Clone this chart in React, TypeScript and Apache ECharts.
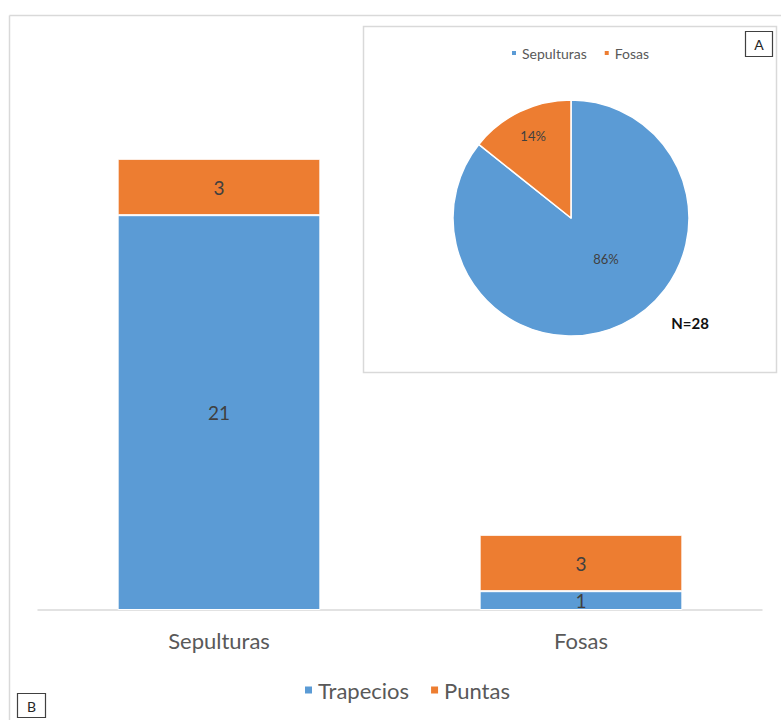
import React, { useEffect, useRef } from "react";
import * as echarts from "echarts";

// Counts per context type, split by arrowhead form
const categories = ["Sepulturas", "Fosas"];
const trapecios = [21, 1];
const puntas = [3, 3];
const barSeriesNames = ["Trapecios", "Puntas"];

const BLUE = "#5B9BD5";
const ORANGE = "#ED7D31";
const FONT = "Lato, 'Noto Sans', sans-serif";

export default function App() {
  const ref = useRef<HTMLDivElement>(null);

  useEffect(() => {
    if (!ref.current) return;
    const chart = echarts.init(ref.current, undefined, { renderer: "svg" });

    const pieValues = categories.map((_, i) => trapecios[i] + puntas[i]);
    const total = pieValues.reduce((a, b) => a + b, 0);

    const pieCx = 571;
    const pieCy = 218;
    const pieR = 118;

    chart.setOption({
      animation: false,
      backgroundColor: "#ffffff",
      textStyle: { fontFamily: FONT },
      graphic: [
        // outer frame (left and top edges visible)
        {
          type: "line",
          shape: { x1: 9.5, y1: 15.5, x2: 9.5, y2: 720 },
          style: { stroke: "#d9d9d9", lineWidth: 1.5 },
          z: -10,
        },
        {
          type: "line",
          shape: { x1: 9.5, y1: 15.5, x2: 781, y2: 15.5 },
          style: { stroke: "#d9d9d9", lineWidth: 1.5 },
          z: -10,
        },
        // inset panel behind the pie
        {
          type: "rect",
          shape: { x: 363.5, y: 26.5, width: 413, height: 346 },
          style: { fill: "#ffffff", stroke: "#d9d9d9", lineWidth: 1.5 },
          z: -5,
        },
        // panel tags
        {
          type: "rect",
          shape: { x: 745.5, y: 31.5, width: 27, height: 25 },
          style: { fill: "#ffffff", stroke: "#404040", lineWidth: 1.2 },
          z: 10,
        },
        {
          type: "text",
          x: 759,
          y: 44.5,
          style: {
            text: "A",
            fill: "#262626",
            font: `14px ${FONT}`,
            align: "center",
            verticalAlign: "middle",
          },
          z: 11,
        },
        {
          type: "rect",
          shape: { x: 17.5, y: 693.5, width: 28, height: 24 },
          style: { fill: "#ffffff", stroke: "#404040", lineWidth: 1.2 },
          z: 10,
        },
        {
          type: "text",
          x: 31.5,
          y: 706,
          style: {
            text: "B",
            fill: "#262626",
            font: `14px ${FONT}`,
            align: "center",
            verticalAlign: "middle",
          },
          z: 11,
        },
        {
          type: "text",
          x: 690,
          y: 323,
          style: {
            text: `N=${total}`,
            fill: "#111111",
            font: `bold 15px ${FONT}`,
            align: "center",
            verticalAlign: "middle",
          },
          z: 11,
        },
      ],
      legend: [
        {
          data: barSeriesNames,
          left: 298,
          top: 674,
          icon: "rect",
          itemWidth: 9,
          itemHeight: 9,
          itemGap: 20,
          textStyle: { fontSize: 22, color: "#595959", fontFamily: FONT },
        },
        {
          data: categories,
          left: 505,
          top: 41,
          icon: "rect",
          itemWidth: 6,
          itemHeight: 6,
          itemGap: 16,
          textStyle: { fontSize: 14, color: "#595959", fontFamily: FONT },
        },
      ],
      grid: { left: 38, right: 19, top: 46, bottom: 110 },
      xAxis: {
        type: "category",
        data: categories,
        axisLine: { lineStyle: { color: "#d9d9d9", width: 1.5 } },
        axisTick: { show: false },
        axisLabel: {
          fontSize: 22,
          color: "#595959",
          margin: 19,
          fontFamily: FONT,
        },
      },
      yAxis: {
        type: "value",
        min: 0,
        max: 30,
        show: false,
        splitLine: { show: false },
      },
      series: [
        {
          name: "Trapecios",
          type: "bar",
          stack: "total",
          data: trapecios,
          barWidth: "56%",
          itemStyle: { color: BLUE, borderColor: "#ffffff", borderWidth: 1 },
          label: {
            show: true,
            position: "inside",
            fontSize: 19,
            color: "#404040",
            fontFamily: FONT,
          },
        },
        {
          name: "Puntas",
          type: "bar",
          stack: "total",
          data: puntas,
          barWidth: "56%",
          itemStyle: { color: ORANGE, borderColor: "#ffffff", borderWidth: 1 },
          label: {
            show: true,
            position: "inside",
            fontSize: 19,
            color: "#404040",
            fontFamily: FONT,
          },
        },
        {
          name: "Tipo",
          type: "pie",
          center: [pieCx, pieCy],
          radius: [0, pieR],
          startAngle: 90,
          clockwise: true,
          data: categories.map((name, i) => ({
            name,
            value: pieValues[i],
            itemStyle: { color: i === 0 ? BLUE : ORANGE },
            label: i === 1 ? { offset: [-11, -26] } : { offset: [8, -15] },
          })),
          itemStyle: { borderColor: "#ffffff", borderWidth: 1.5 },
          label: {
            show: true,
            position: "inside",
            fontSize: 13,
            color: "#404040",
            fontFamily: FONT,
            formatter: (p: any) => `${Math.round(p.percent)}%`,
          },
          labelLine: { show: false },
          emphasis: { disabled: true },
        },
      ],
    });

    return () => chart.dispose();
  }, []);

  return (
    <div
      ref={ref}
      style={{ position: "fixed", left: 0, top: 0, width: 781, height: 720 }}
    />
  );
}
